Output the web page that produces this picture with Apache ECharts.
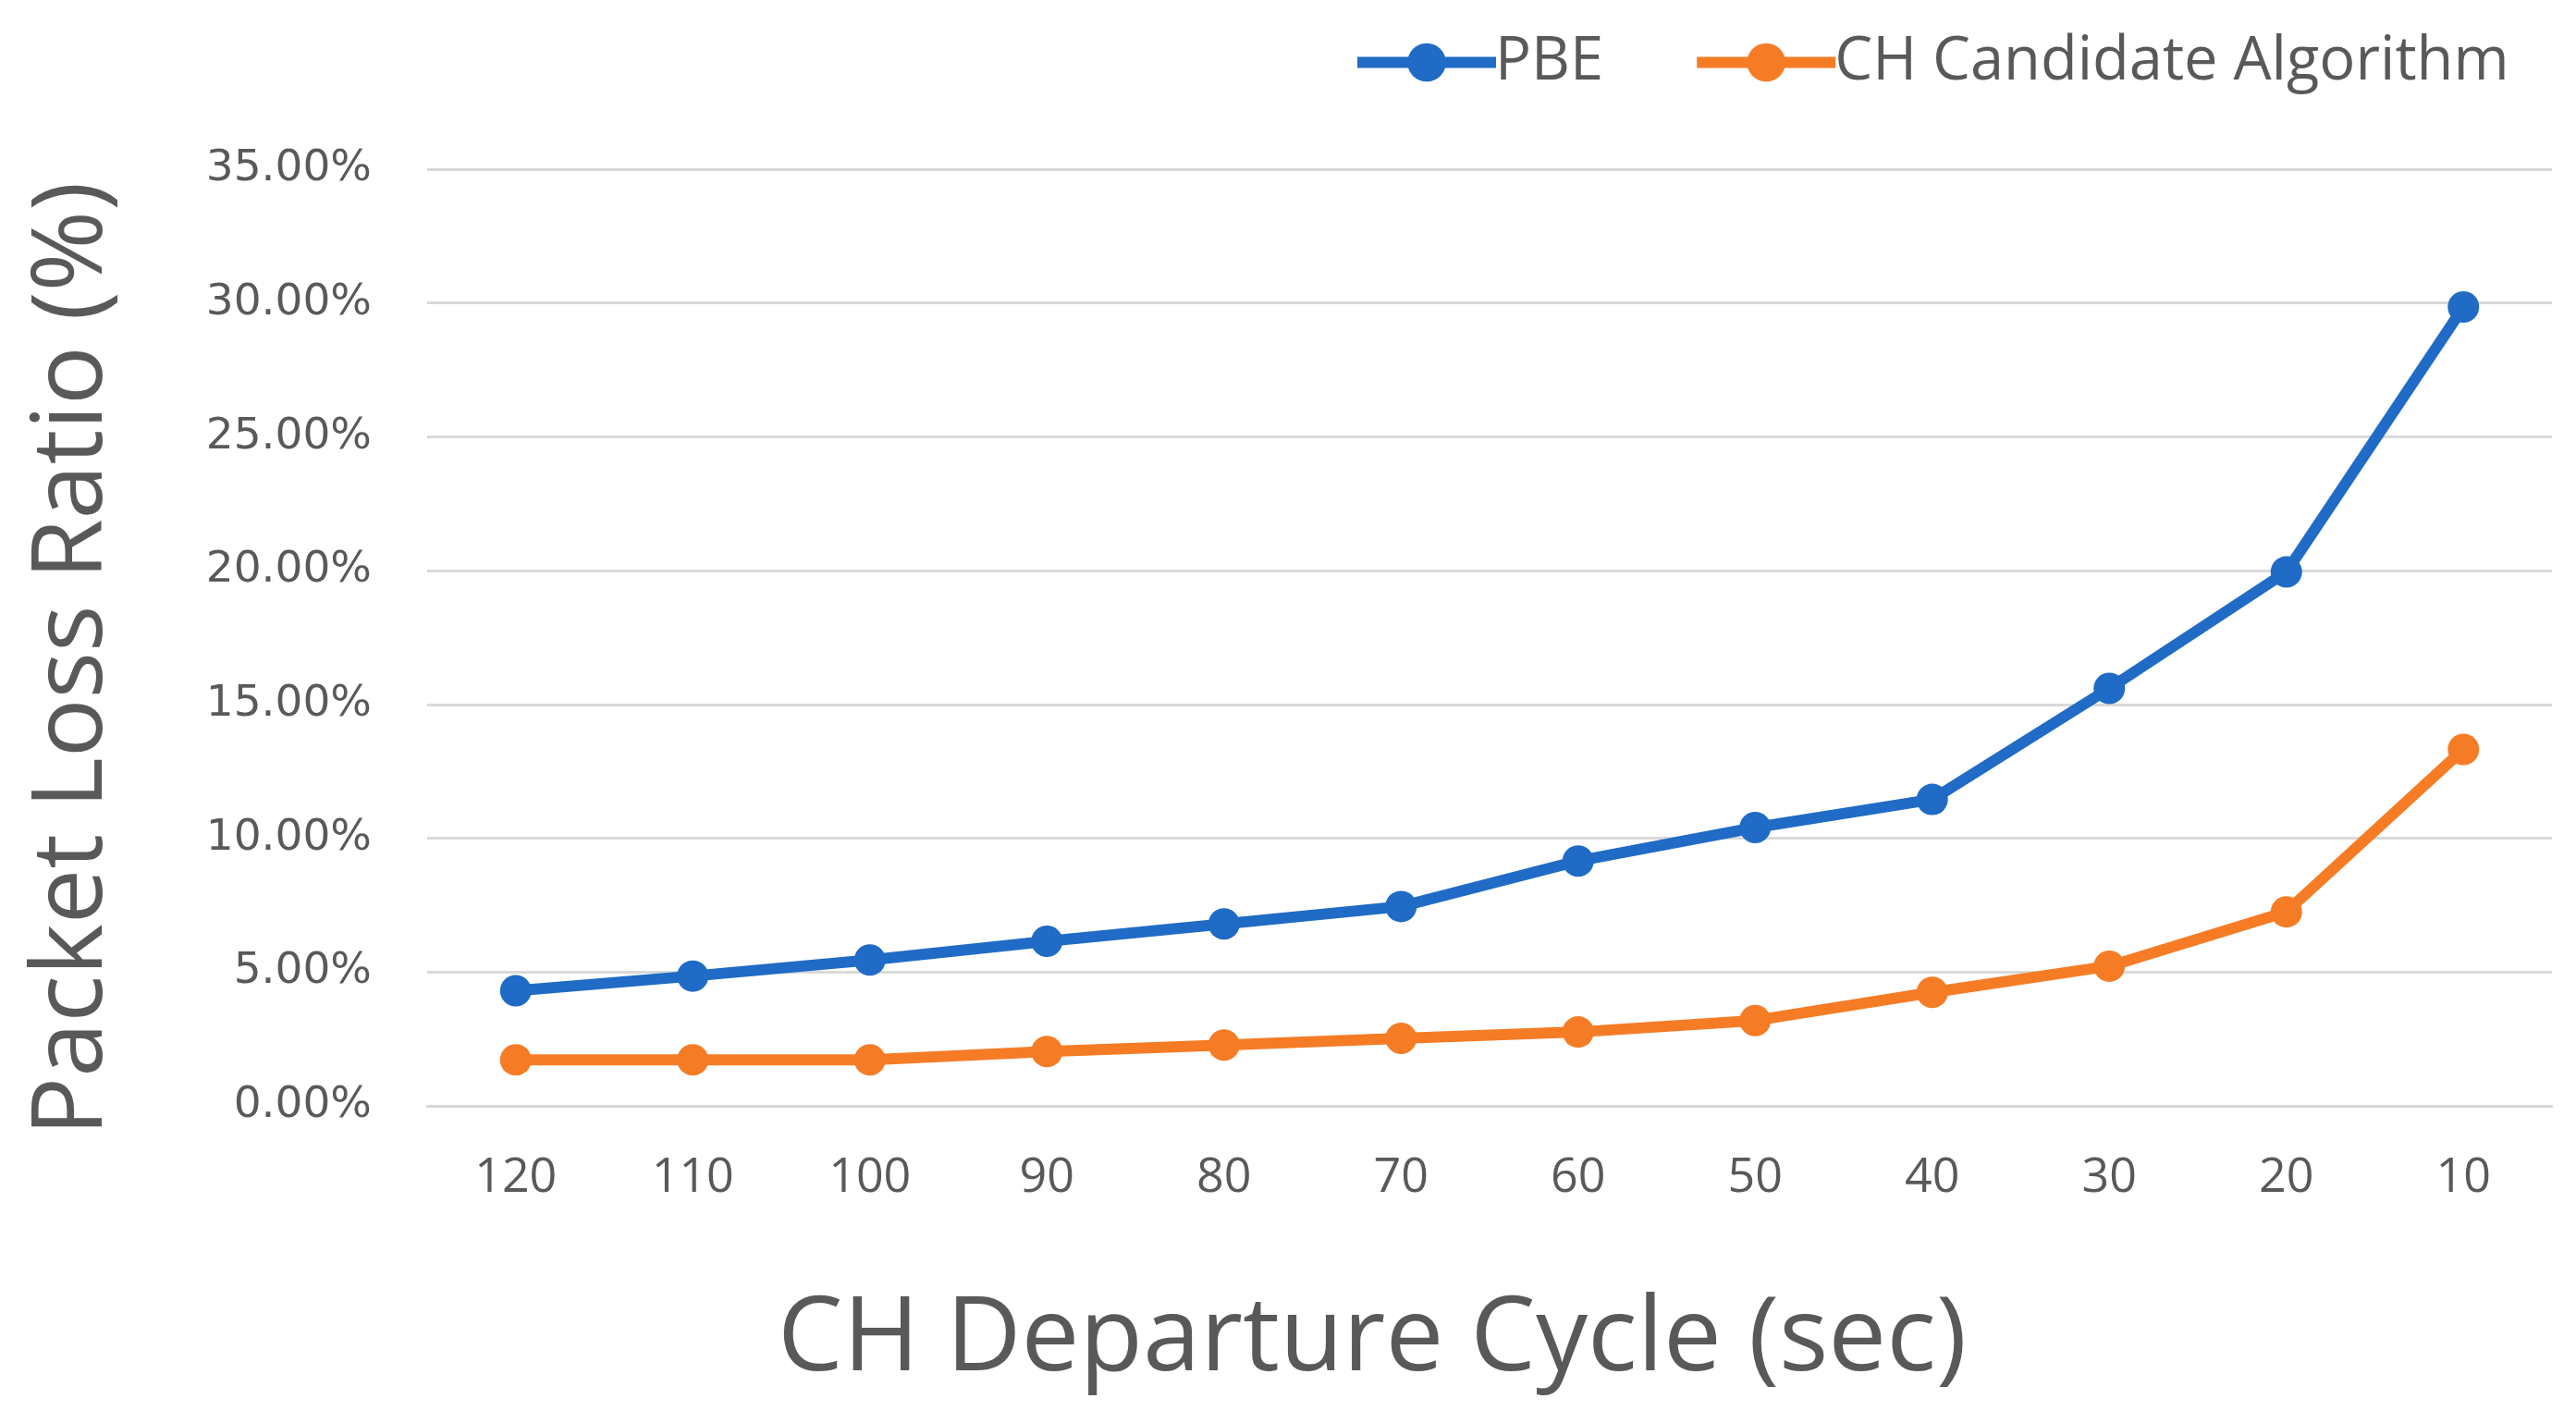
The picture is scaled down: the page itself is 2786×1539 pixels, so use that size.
<!DOCTYPE html>
<html><head><meta charset="utf-8">
<script src="https://cdn.jsdelivr.net/npm/echarts@6/dist/echarts.min.js"></script>
<style>html,body{margin:0;padding:0;background:#fff}#c{width:2786px;height:1539px}</style>
</head><body><div id="c"></div>
<script>
const categories = ['120','110','100','90','80','70','60','50','40','30','20','10'];
const pbe = [4.30, 4.85, 5.45, 6.15, 6.80, 7.45, 9.15, 10.40, 11.45, 15.60, 19.95, 29.85];
const chCandidate = [1.72, 1.72, 1.72, 2.03, 2.27, 2.52, 2.76, 3.19, 4.24, 5.22, 7.25, 13.32];
const yTicks = { min: 0, max: 35, interval: 5 };
const seriesNames = ['PBE', 'CH Candidate Algorithm'];
const colors = ['#1F6BC5', '#F57C25'];

const chart = echarts.init(document.getElementById('c'));
const font = 'Open Sans';
chart.setOption({
  backgroundColor: '#fff',
  animation: false,
  color: colors,
  legend: {
    data: seriesNames,
    left: 1457, top: 30,
    itemWidth: 150, itemHeight: 52, itemGap: 95,
    lineStyle: { width: 12 },
    textStyle: { fontFamily: font, fontSize: 65, color: '#595959', padding: [0,0,0,-6] }
  },
  grid: { left: 462, right: 26, top: 183, bottom: 343, containLabel: false },
  xAxis: {
    type: 'category', data: categories, boundaryGap: true,
    name: 'CH Departure Cycle (sec)', nameLocation: 'middle', nameGap: 198,
    nameTextStyle: { fontFamily: font, fontSize: 112, color: '#595959', padding: [0, 254, 0, 0] },
    axisLine: { show: true, lineStyle: { color: '#D9D9D9', width: 3 } },
    axisTick: { show: false },
    axisLabel: { fontFamily: font, fontSize: 52, color: '#595959', margin: 52 }
  },
  yAxis: {
    type: 'value', min: yTicks.min, max: yTicks.max, interval: yTicks.interval,
    name: 'Packet Loss Ratio (%)', nameLocation: 'middle', nameGap: 329,
    nameTextStyle: { fontFamily: font, fontSize: 106, color: '#595959', padding: [0, 46, 0, 0] },
    axisLine: { show: false }, axisTick: { show: false },
    splitLine: { lineStyle: { color: '#D9D9D9', width: 3 } },
    axisLabel: { fontFamily: 'DejaVu Sans', fontSize: 47, color: '#595959', margin: 60,
      formatter: v => v.toFixed(2) + '%' }
  },
  series: [
    { name: seriesNames[0], type: 'line', data: pbe, symbol: 'circle', symbolSize: 34,
      lineStyle: { width: 12, color: colors[0] }, itemStyle: { color: colors[0] } },
    { name: seriesNames[1], type: 'line', data: chCandidate, symbol: 'circle', symbolSize: 34,
      lineStyle: { width: 12, color: colors[1] }, itemStyle: { color: colors[1] } }
  ]
});
</script></body></html>
